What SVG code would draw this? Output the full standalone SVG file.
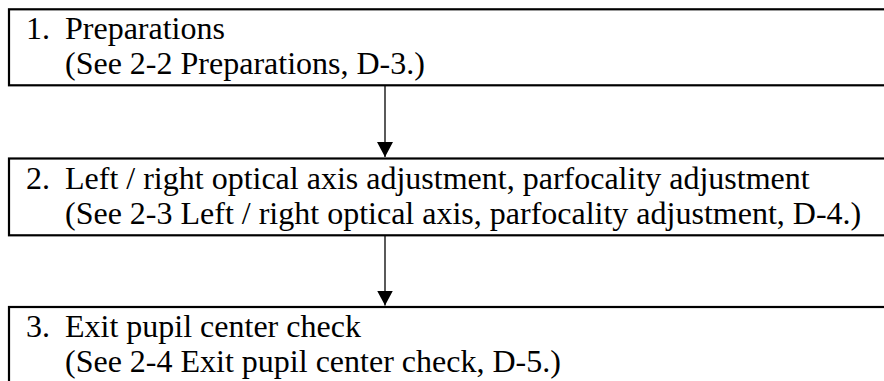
<svg xmlns="http://www.w3.org/2000/svg" width="884" height="381" viewBox="0 0 884 381">
<defs>
<style>
.box{fill:#fff;stroke:#000;stroke-width:2.2}
.t{font-family:"Liberation Serif","Times New Roman",serif;font-size:32px;fill:#000}
.c{stroke:#000;stroke-width:1.3;fill:none}
</style>
<marker id="ah" markerUnits="userSpaceOnUse" markerWidth="16" markerHeight="16" refX="15" refY="8" orient="auto" viewBox="0 0 16 16">
<path d="M0,0 L15,8 L0,16 Z" fill="#000"/>
</marker>
</defs>
<rect width="884" height="381" fill="#fff"/>
<g id="connectors">
<line class="c" x1="385" y1="86" x2="385" y2="157" marker-end="url(#ah)"/>
<line class="c" x1="385" y1="236" x2="385" y2="305.5" marker-end="url(#ah)"/>
</g>
<g id="node1">
<rect class="box" x="9" y="9.3" width="900" height="76"/>
<text class="t" x="26" y="39">1.</text>
<text class="t" x="65" y="39">Preparations</text>
<text class="t" x="65" y="74">(See 2-2 Preparations, D-3.)</text>
</g>
<g id="node2">
<rect class="box" x="9" y="158.5" width="900" height="76.8"/>
<text class="t" x="26" y="188.5">2.</text>
<text class="t" x="65" y="188.5">Left / right optical axis adjustment, parfocality adjustment</text>
<text class="t" x="65" y="223.5">(See 2-3 Left / right optical axis, parfocality adjustment, D-4.)</text>
</g>
<g id="node3">
<rect class="box" x="9" y="307" width="900" height="90"/>
<text class="t" x="26" y="337">3.</text>
<text class="t" x="65" y="337">Exit pupil center check</text>
<text class="t" x="65" y="372">(See 2-4 Exit pupil center check, D-5.)</text>
</g>
</svg>
